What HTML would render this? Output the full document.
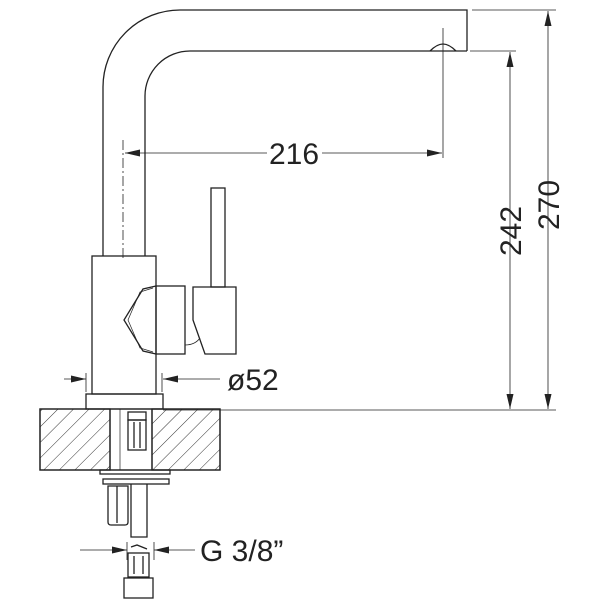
<!DOCTYPE html>
<html><head><style>body{margin:0;background:#fff}</style></head><body>
<svg width="600" height="600" viewBox="0 0 600 600" xmlns="http://www.w3.org/2000/svg">
<defs>
<pattern id="h" width="11" height="11" patternUnits="userSpaceOnUse" patternTransform="rotate(45)">
<line x1="0" y1="0" x2="0" y2="11" stroke="#333" stroke-width="1"/>
</pattern>
<marker id="a" viewBox="0 0 10 10" refX="10" refY="5" markerWidth="15" markerHeight="7" orient="auto-start-reverse" markerUnits="userSpaceOnUse" preserveAspectRatio="none"><path d="M0,0L10,5L0,10Z" fill="#222"/></marker>
</defs>
<g fill="none" stroke="#222" stroke-width="1.3">
<path d="M103,256 V87 A77,77 0 0 1 180,10 H467 V51"/>
<path d="M145,256 V96 A45,45 0 0 1 190,51 H467"/>
<path d="M430,51 Q437,44 443,44 Q449,44 456,51"/>
<rect x="92" y="256" width="64" height="138"/>
<rect x="86" y="394" width="77" height="15"/>
<path d="M156,286 L143,289 L124,320 L143,351 L156,354"/>
<path d="M153,288 L140,292 L128,320 L140,348 L153,352" stroke-width="0.7"/>
<rect x="156" y="286" width="29" height="68"/>
<path d="M185,345 Q195,345 200,338" stroke-width="0.8"/>
<rect x="211" y="188" width="14" height="99"/>
<path d="M193,287 H236 V354 H205 L193,320 Z"/>
<rect x="40" y="409" width="70" height="61" fill="url(#h)"/>
<rect x="152" y="409" width="68" height="61" fill="url(#h)"/>
<path d="M40,409 H220 V470 H40 Z"/>
<line x1="110" y1="409" x2="110" y2="470"/><line x1="152" y1="409" x2="152" y2="470"/>
<line x1="120" y1="409" x2="120" y2="470" stroke-width="0.7"/>
<rect x="128" y="412" width="18" height="8"/><rect x="128" y="420" width="18" height="30"/>
<line x1="134" y1="422" x2="134" y2="448"/><line x1="140" y1="422" x2="140" y2="448"/>
<rect x="100" y="470" width="70" height="4"/>
<rect x="103" y="479" width="66" height="5"/>
<path d="M108,486 H128 V522 Q128,525 125,525 H111 Q108,525 108,522 Z"/>
<line x1="117" y1="486" x2="117" y2="523"/>
<path d="M131,484 V537 H147 V484"/>
<path d="M131,547 L137,545 L147,549"/>
<rect x="128" y="553" width="21" height="24"/>
<line x1="134" y1="556" x2="134" y2="574"/><line x1="143" y1="556" x2="143" y2="574"/>
<rect x="124" y="578" width="29" height="20"/>
</g>
<g stroke="#222" stroke-width="0.8" fill="none">
<line x1="123" y1="140" x2="123" y2="258" stroke-dasharray="10,3,2,3"/>
<line x1="443" y1="28" x2="443" y2="158"/>
<line x1="125" y1="153" x2="267" y2="153" marker-start="url(#a)"/>
<line x1="322" y1="153" x2="442" y2="153" marker-end="url(#a)"/>
<line x1="472" y1="10" x2="556" y2="10"/>
<line x1="470" y1="51" x2="516" y2="51"/>
<line x1="163" y1="410" x2="556" y2="410"/>
<line x1="510" y1="52" x2="510" y2="409" marker-start="url(#a)" marker-end="url(#a)"/>
<line x1="548" y1="11" x2="548" y2="409" marker-start="url(#a)" marker-end="url(#a)"/>
<line x1="86" y1="373" x2="86" y2="392"/><line x1="162" y1="373" x2="162" y2="392"/>
<line x1="64" y1="379" x2="86" y2="379" marker-end="url(#a)"/>
<line x1="220" y1="379" x2="163" y2="379" marker-end="url(#a)"/>
<line x1="80" y1="550" x2="127" y2="550" marker-end="url(#a)"/>
<line x1="195" y1="550" x2="154" y2="550" marker-end="url(#a)"/>
<line x1="127" y1="542" x2="127" y2="560"/><line x1="154" y1="542" x2="154" y2="560"/>
</g>
<g font-family="Liberation Sans, sans-serif" font-size="30" fill="#222">
<text x="294" y="164" text-anchor="middle">216</text>
<text x="227" y="390">ø52</text>
<text x="200" y="561">G 3/8”</text>
<text transform="translate(521,231) rotate(-90)" text-anchor="middle">242</text>
<text transform="translate(559,205) rotate(-90)" text-anchor="middle">270</text>
</g>
</svg>
</body></html>
